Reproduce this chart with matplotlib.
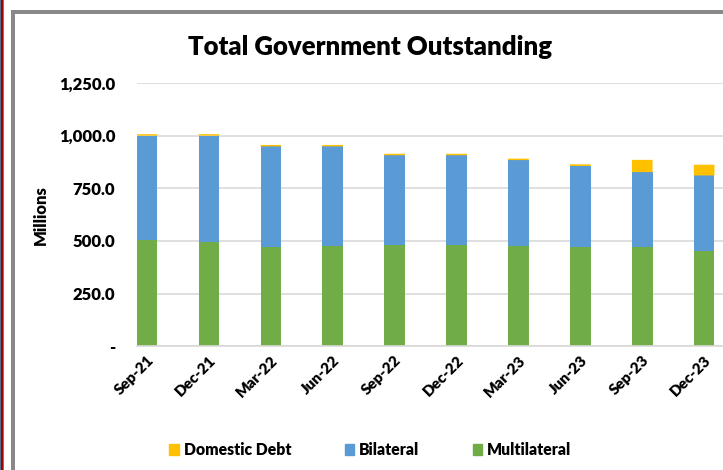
import matplotlib.pyplot as plt
from matplotlib.patches import Rectangle, Patch
from matplotlib.ticker import FuncFormatter

plt.rcParams['font.family'] = ['Lato', 'DejaVu Sans']

# Quarterly debt stock, millions
quarters = ["Sep-21", "Dec-21", "Mar-22", "Jun-22", "Sep-22",
            "Dec-22", "Mar-23", "Jun-23", "Sep-23", "Dec-23"]
multilateral = [503, 495, 473, 478, 480, 480, 477, 470, 470, 454]
bilateral = [497, 505, 476, 471, 427, 427, 407, 386, 357, 357]
domestic = [7, 7, 7, 7, 7, 7, 7, 8, 58, 51]

GREEN = "#70AD47"
BLUE = "#5B9BD5"
YELLOW = "#FFC000"
GRID = "#D9D9D9"
WEIGHT = "heavy"

W, H = 723, 470
fig = plt.figure(figsize=(W / 100, H / 100), dpi=100)

# window frame bits around the chart object
def px_rect(x, y, w, h, color):
    fig.patches.append(Rectangle((x / W, 1 - (y + h) / H), w / W, h / H,
                                 transform=fig.transFigure, color=color,
                                 linewidth=0, zorder=0))

px_rect(0, 0, 1, H, "#5A6E8C")
px_rect(1, 0, 2, H, "#A00000")
px_rect(3, 0, 1, H, "#D85050")
px_rect(11, 10, 4, H - 10, "#888888")
px_rect(11, 10, W - 11, 4, "#888888")

left, right, top, bottom = 136.7, 723, 83, 346.3
ax = fig.add_axes([left / W, 1 - bottom / H, (right - left) / W, (bottom - top) / H])

x = range(len(quarters))
width = 0.334
base2 = [m + b for m, b in zip(multilateral, bilateral)]
ax.bar(x, multilateral, width, color=GREEN, zorder=2)
ax.bar(x, bilateral, width, bottom=multilateral, color=BLUE, zorder=2)
ax.bar(x, domestic, width, bottom=base2, color=YELLOW, zorder=3, snap=False)

ax.set_xlim(-width / 2, -width / 2 + (right - left) / 61.9)
ax.set_ylim(0, 1250)
ax.set_yticks([0, 250, 500, 750, 1000, 1250])
ax.yaxis.set_major_formatter(FuncFormatter(lambda v, _: "-" if v == 0 else f"{v:,.1f}"))
ax.grid(axis="y", color=GRID, linewidth=1.2, zorder=0)
ax.set_axisbelow(True)

for s in ["top", "right", "left"]:
    ax.spines[s].set_visible(False)
ax.spines["bottom"].set_color(GRID)
ax.spines["bottom"].set_linewidth(1.2)
ax.tick_params(axis="both", length=0)
ax.tick_params(axis="y", pad=15.5)
ax.tick_params(axis="x", pad=5)
ax.set_xticks(list(x))
ax.set_xticklabels(quarters, rotation=45, ha="right", rotation_mode="anchor",
                   fontweight=WEIGHT, fontsize=11)
for lab in ax.get_yticklabels():
    lab.set_fontweight(WEIGHT)
    lab.set_fontsize(12)

fig.text(41 / W, 1 - 215 / H, "Millions", rotation=90, ha="center", va="center",
         fontweight=WEIGHT, fontsize=12)
fig.text(370 / W, 1 - 47 / H, "Total Government Outstanding", ha="center",
         va="center", fontweight=WEIGHT, fontsize=18.5)

handles = [Patch(color=YELLOW, label="Domestic Debt"),
           Patch(color=BLUE, label="Bilateral"),
           Patch(color=GREEN, label="Multilateral")]
fig.legend(handles=handles, loc="center left", ncol=3, frameon=False,
           bbox_to_anchor=(163 / W, 1 - 450 / H),
           prop={"weight": WEIGHT, "size": 11.3},
           handlelength=0.62, handleheight=0.78, handletextpad=0.3,
           columnspacing=3.4, borderaxespad=0)

fig.savefig("out.png", dpi=100)
